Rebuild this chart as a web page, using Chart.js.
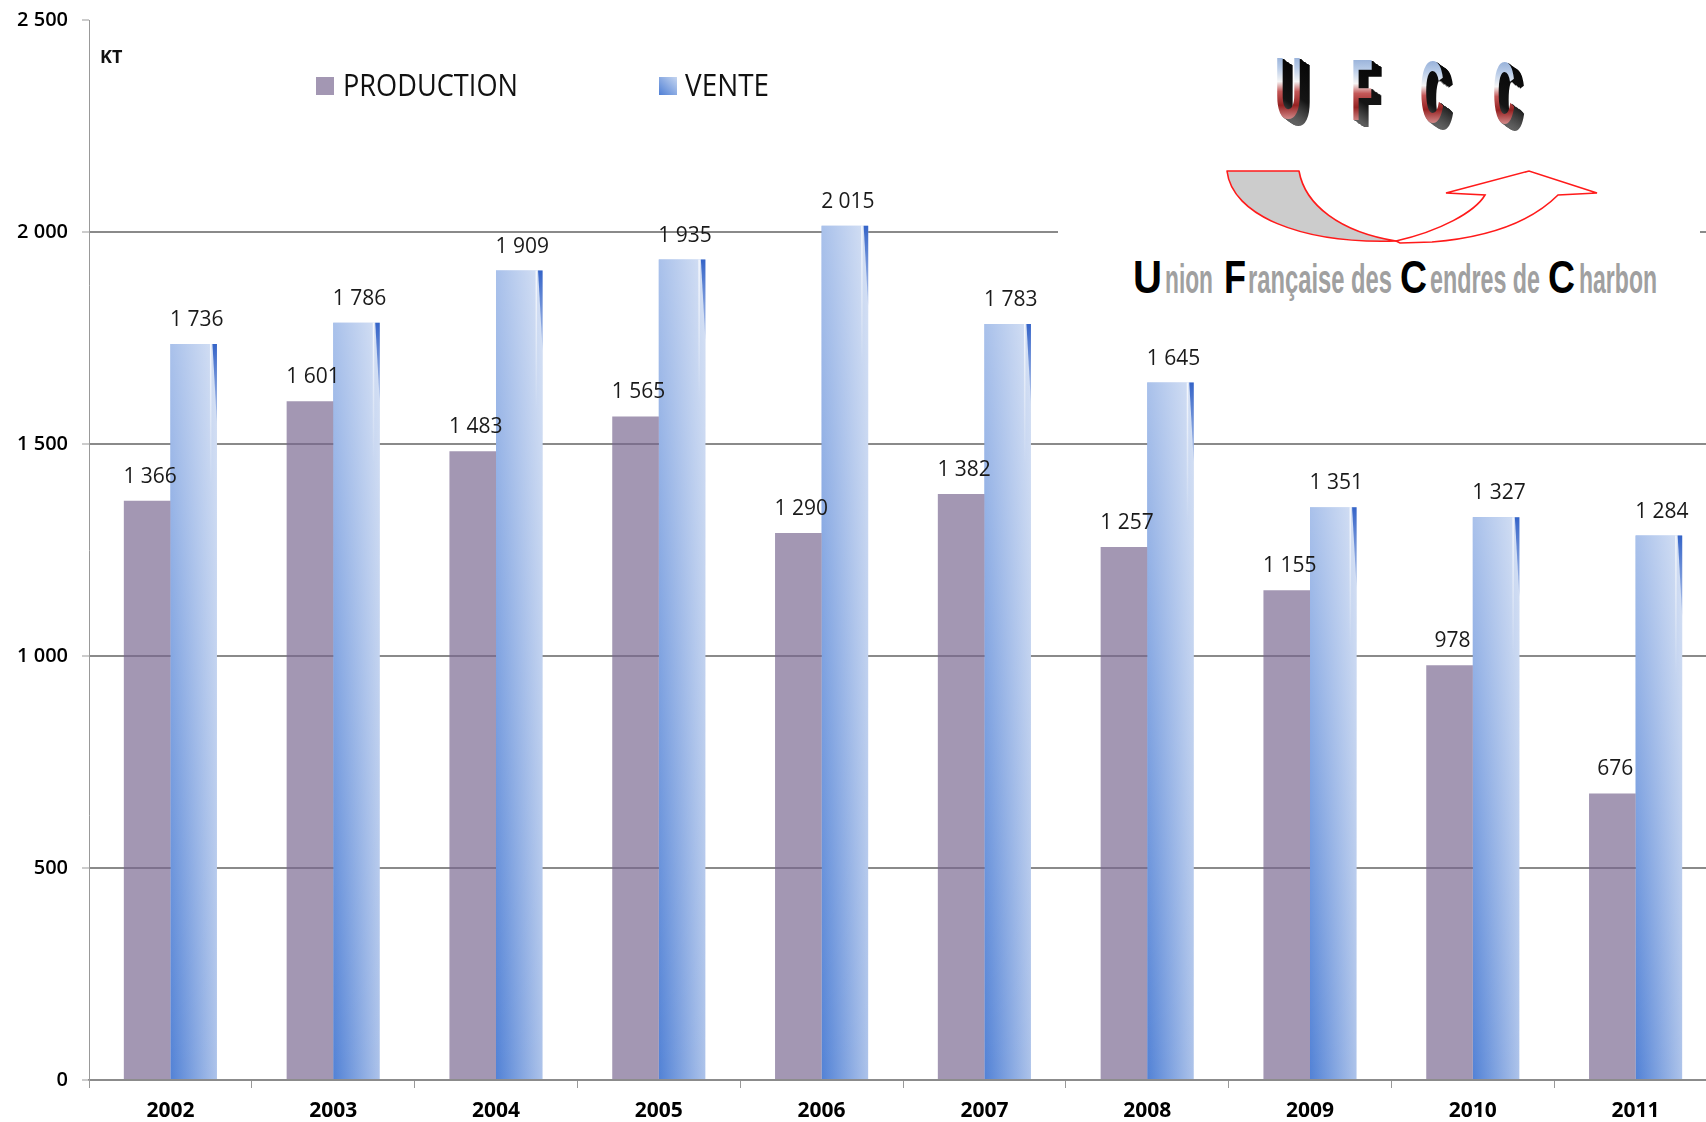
<!DOCTYPE html>
<html><head><meta charset="utf-8">
<script src="https://cdn.jsdelivr.net/npm/chart.js@4.4.1/dist/chart.umd.min.js"></script>
<style>
html,body{margin:0;padding:0;background:#fff;overflow:hidden;}
#wrap{position:relative;width:1706px;height:1122px;overflow:hidden;background:#fff;}
#c{position:absolute;left:0;top:0;}
#logo{position:absolute;left:0;top:0;}
</style></head><body>
<div id="wrap">
<canvas id="c" width="1720" height="1122" style="width:1720px;height:1122px"></canvas>
<svg id="logo" width="1706" height="1122" xmlns="http://www.w3.org/2000/svg"></svg>
</div>
<script>
const categories = ['2002','2003','2004','2005','2006','2007','2008','2009','2010','2011'];
const production = [1366,1601,1483,1565,1290,1382,1257,1155,978,676];
const vente = [1736,1786,1909,1935,2015,1783,1645,1351,1327,1284];
const yTicks = [0,500,1000,1500,2000,2500];
const seriesNames = ['PRODUCTION','VENTE'];
const unitLabel = 'KT';
const logoTitle = ['U','F','C','C'];
const logoLine = [['U','nion'],['F','rançaise des'],['C','endres de'],['C','harbon']];

const fmt = n => String(n).replace(/\B(?=(\d{3})+(?!\d))/g, ' ');
const CAT_PCT = 0.572;
const PROD_COLOR = 'rgba(120,102,143,0.68)';
const PROD_SOLID = '#a397b3';

function venteFill(c) {
  const chart = c.chart;
  if (!chart.chartArea || c.type !== 'data') return '#7fa3dc';
  const xs = chart.scales.x;
  const cx = xs.getPixelForValue(c.dataIndex);
  const bw = xs.width / categories.length * CAT_PCT / 2;
  const g = chart.ctx.createLinearGradient(cx, 0, cx + bw, 0);
  g.addColorStop(0, '#5282d6');
  g.addColorStop(1, '#adc3ea');
  return g;
}

function fitText(ctx, text, x, y, w) {
  const m = ctx.measureText(text).width;
  ctx.save(); ctx.translate(x, y); ctx.scale(w / m, 1); ctx.fillText(text, 0, 0); ctx.restore();
}

const ventePlugin = {
  id: 'venteShade',
  afterDatasetDraw(chart, args) {
    if (args.index !== 1) return;
    const ctx = chart.ctx;
    args.meta.data.forEach(bar => {
      const {x, y, base, width} = bar.getProps(['x','y','base','width'], true);
      const l = x - width / 2, r = x + width / 2;
      ctx.save();
      const g = ctx.createLinearGradient(0, base, 0, y);
      g.addColorStop(0, 'rgba(255,255,255,0)');
      g.addColorStop(1, 'rgba(255,255,255,0.5)');
      ctx.fillStyle = g;
      ctx.fillRect(l, y, width, base - y);
      const lg = ctx.createLinearGradient(0, y, 0, y + 140);
      lg.addColorStop(0, 'rgba(255,255,255,0.8)');
      lg.addColorStop(1, 'rgba(255,255,255,0)');
      ctx.fillStyle = lg;
      ctx.fillRect(r - 7, y, 1.5, 140);
      const wg = ctx.createLinearGradient(0, y, 0, y + 80);
      wg.addColorStop(0, '#3564c8');
      wg.addColorStop(1, 'rgba(53,100,200,0.2)');
      ctx.beginPath(); ctx.moveTo(r - 4.5, y); ctx.lineTo(r, y); ctx.lineTo(r, y + 80); ctx.closePath();
      ctx.fillStyle = wg; ctx.fill();
      ctx.restore();
    });
  }
};

const labelPlugin = {
  id: 'valueLabels',
  afterDatasetsDraw(chart) {
    const ctx = chart.ctx;
    ctx.save();
    ctx.font = '21px "Open Sans"';
    ctx.fillStyle = '#1a1a1a';
    ctx.textAlign = 'center';
    ctx.textBaseline = 'middle';
    chart.data.datasets.forEach((ds, i) => {
      chart.getDatasetMeta(i).data.forEach((bar, j) => {
        const {x, y} = bar.getProps(['x','y'], true);
        ctx.fillText(fmt(ds.data[j]), x + 3, y - 24);
      });
    });
    ctx.restore();
  }
};

const legendPlugin = {
  id: 'innerLegend',
  afterDraw(chart) {
    const ctx = chart.ctx;
    ctx.save();
    ctx.fillStyle = PROD_SOLID;
    ctx.fillRect(316, 77, 18, 18);
    const g = ctx.createLinearGradient(659, 95, 677, 77);
    g.addColorStop(0, '#4f7fd5'); g.addColorStop(1, '#c6d6f0');
    ctx.fillStyle = g;
    ctx.fillRect(659, 77, 18, 18);
    ctx.fillStyle = '#111';
    ctx.font = '31px "Open Sans"';
    ctx.textBaseline = 'alphabetic';
    fitText(ctx, seriesNames[0], 343, 96, 175);
    fitText(ctx, seriesNames[1], 685, 96, 84);
    ctx.font = 'bold 18px "Open Sans"';
    ctx.fillText(unitLabel, 100, 63);
    ctx.restore();
  }
};

new Chart(document.getElementById('c'), {
  type: 'bar',
  data: {
    labels: categories,
    datasets: [
      { label: seriesNames[0], data: production, backgroundColor: PROD_COLOR, borderWidth: 0,
        categoryPercentage: CAT_PCT, barPercentage: 1.0 },
      { label: seriesNames[1], data: vente, backgroundColor: venteFill, borderWidth: 0,
        categoryPercentage: CAT_PCT, barPercentage: 1.0 }
    ]
  },
  options: {
    responsive: false,
    animation: false,
    devicePixelRatio: 1,
    layout: { padding: { top: 20, right: 3, bottom: 0, left: 0 } },
    plugins: { legend: { display: false }, tooltip: { enabled: false } },
    scales: {
      x: {
        afterFit: s => { s.height = 42; s.paddingLeft = 0; s.paddingRight = 0; },
        grid: { display: true, drawOnChartArea: false, drawTicks: true, tickLength: 8, tickColor: '#999', tickWidth: 1 },
        border: { color: '#8c8c8c', width: 1.5 },
        ticks: { color: '#000', font: { family: '"Open Sans"', size: 21, weight: 'bold' }, padding: 10, maxRotation: 0, autoSkip: false }
      },
      y: {
        min: 0, max: 2500,
        afterFit: s => { s.width = 89; s.paddingTop = 0; s.paddingBottom = 0; },
        afterBuildTicks: s => { s.ticks = yTicks.map(v => ({ value: v })); },
        grid: {
          color: c => (c.tick && c.tick.value === 2500) ? 'rgba(0,0,0,0)' : '#8a8a8a',
          lineWidth: 2, tickLength: 7, tickColor: '#999', tickWidth: 1
        },
        border: { color: '#999', width: 1 },
        ticks: { color: '#000', font: { family: '"Open Sans"', size: 20, weight: '600' }, padding: 14,
          callback: v => fmt(v) }
      }
    }
  },
  plugins: [ventePlugin, labelPlugin, legendPlugin]
});

// ---- logo (SVG overlay) ----
const NS = 'http://www.w3.org/2000/svg';
const svg = document.getElementById('logo');
function el(tag, attrs, text) {
  const e = document.createElementNS(NS, tag);
  for (const k in attrs) e.setAttribute(k, attrs[k]);
  if (text !== undefined) e.textContent = text;
  svg.appendChild(e); return e;
}
const defs = el('defs', {});
defs.innerHTML =
  '<linearGradient id="face" x1="0" y1="0" x2="0" y2="1">' +
  '<stop offset="0" stop-color="#5f84c0"/><stop offset="0.3" stop-color="#b9cce8"/>' +
  '<stop offset="0.44" stop-color="#f5f5f5"/><stop offset="0.54" stop-color="#c45858"/>' +
  '<stop offset="0.68" stop-color="#962222"/><stop offset="0.84" stop-color="#dc9a9a"/>' +
  '<stop offset="1" stop-color="#ffffff"/></linearGradient>' +
  '<linearGradient id="depth" x1="0" y1="0" x2="0" y2="1">' +
  '<stop offset="0" stop-color="#000"/><stop offset="0.6" stop-color="#151515"/>' +
  '<stop offset="1" stop-color="#a0a0a0"/></linearGradient>';

el('rect', { x: 1058, y: 28, width: 642, height: 292, fill: '#fff' });

const letterPos = [[1275, 118, 27], [1351, 120, 22], [1420, 122, 24], [1493, 123, 22]];
logoTitle.forEach((ch, i) => {
  const [lx, by, w] = letterPos[i];
  for (let k = 10; k >= 1; k--) {
    el('text', { x: lx + k, y: by + k * 0.7, 'font-family': 'Liberation Sans, Arial, sans-serif',
      'font-weight': 'bold', 'font-size': 88, fill: 'url(#depth)', textLength: w, lengthAdjust: 'spacingAndGlyphs' }, ch);
  }
  el('text', { x: lx, y: by, 'font-family': 'Liberation Sans, Arial, sans-serif',
    'font-weight': 'bold', 'font-size': 88, fill: 'url(#face)', textLength: w, lengthAdjust: 'spacingAndGlyphs' }, ch);
});

el('path', { d: 'M1227,171 L1299,171 C1305,205 1340,232 1396,241 C1300,244 1232,215 1227,171 Z',
  fill: '#cccccc', stroke: '#ff1a1a', 'stroke-width': 1.6, 'stroke-linejoin': 'round' });
el('path', { d: 'M1396,241 C1440,231 1475,212 1485,195 L1446,193 L1529,171 L1597,193 L1558,195 C1540,213 1504,236 1432,242 L1400,243 Z',
  fill: 'none', stroke: '#ff1a1a', 'stroke-width': 1.6, 'stroke-linejoin': 'miter' });

const linePos = [[1133, 29, 1165, 48], [1224, 22, 1248, 144], [1400, 27, 1430, 110], [1548, 27, 1579, 78]];
logoLine.forEach(([big, rest], i) => {
  const [bx, bw, rx, rw] = linePos[i];
  el('text', { x: bx, y: 293, 'font-family': 'Liberation Sans, Arial, sans-serif', 'font-weight': 'bold',
    'font-size': 46, fill: '#000', textLength: bw, lengthAdjust: 'spacingAndGlyphs' }, big);
  el('text', { x: rx, y: 293, 'font-family': 'Liberation Sans, Arial, sans-serif', 'font-weight': 'bold',
    'font-size': 40, fill: '#a0a0a0', textLength: rw, lengthAdjust: 'spacingAndGlyphs' }, rest);
});
</script>
</body></html>
